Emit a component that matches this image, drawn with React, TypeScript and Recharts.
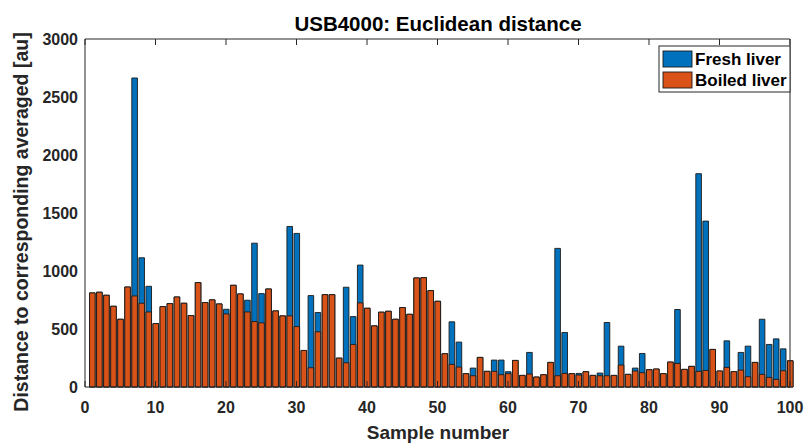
import React from "react";
import { BarChart, Bar, XAxis, YAxis } from "recharts";

const samples: number[] = Array.from({ length: 100 }, (_, i) => i + 1);

const freshLiver: number[] = [
  811, 817, 791, 696, 584, 862, 2664, 1114, 868, 547,
  693, 719, 776, 722, 616, 900, 728, 751, 716, 670,
  877, 802, 748, 1240, 805, 845, 656, 613, 1384, 1324,
  315, 788, 642, 796, 796, 249, 860, 607, 1051, 679,
  527, 645, 653, 584, 685, 627, 940, 943, 831, 739,
  287, 562, 387, 115, 163, 255, 135, 232, 232, 132,
  229, 100, 298, 86, 106, 212, 1195, 470, 115, 117,
  132, 100, 120, 556, 100, 352, 109, 163, 289, 149,
  155, 115, 215, 668, 152, 178, 1839, 1430, 324, 138,
  398, 132, 298, 352, 212, 584, 367, 415, 329, 226,
];

const boiledLiver: number[] = [
  811, 817, 791, 696, 584, 862, 785, 722, 647, 547,
  693, 719, 776, 722, 616, 900, 728, 751, 716, 630,
  877, 802, 647, 564, 553, 845, 656, 613, 613, 521,
  315, 166, 476, 796, 796, 249, 209, 367, 725, 679,
  527, 645, 653, 584, 685, 627, 940, 943, 831, 739,
  287, 195, 172, 115, 97, 255, 135, 135, 106, 115,
  229, 100, 112, 86, 106, 212, 97, 117, 115, 103,
  132, 100, 97, 97, 100, 189, 109, 138, 123, 149,
  155, 115, 215, 203, 152, 178, 135, 143, 324, 138,
  169, 132, 146, 89, 212, 109, 83, 66, 140, 226,
];

const xTicks: number[] = [0, 10, 20, 30, 40, 50, 60, 70, 80, 90, 100];
const yTicks: number[] = [0, 500, 1000, 1500, 2000, 2500, 3000];

const seriesNames = ["Fresh liver", "Boiled liver"];
const titleText = "USB4000: Euclidean distance";
const xLabelText = "Sample number";
const yLabelText = "Distance to corresponding averaged [au]";

const data = samples.map((s, i) => ({
  sample: s,
  fresh: freshLiver[i],
  boiled: boiledLiver[i],
}));

const FONT = "'Liberation Sans', Arial, Helvetica, sans-serif";
const AX = "#262626";
const BLUE = "#0072BD";
const ORANGE = "#D95319";

const W = 805;
const H = 446;
const M = { top: 39, right: 15, bottom: 19, left: 25 };

const NoLabel = () => <g />;

export default function App() {
  const tickStyle = { fontSize: 16, fontWeight: 700, fill: AX, fontFamily: FONT };
  return (
    <div style={{ position: "absolute", left: 0, top: 0, width: W, height: H, background: "#fff" }}>
      <BarChart width={W} height={H} data={data} margin={M}>
        <XAxis
          xAxisId="a"
          dataKey="sample"
          type="number"
          domain={[0, 100]}
          ticks={xTicks}
          orientation="bottom"
          height={40}
          tickLine={false}
          tickSize={6}
          tickMargin={9}
          axisLine={{ stroke: AX, strokeWidth: 1 }}
          tick={tickStyle}
          interval={0}
        />
        <XAxis
          xAxisId="b"
          dataKey="sample"
          type="number"
          domain={[0, 100]}
          ticks={xTicks}
          orientation="bottom"
          mirror
          height={30}
          tick={NoLabel}
          tickSize={6}
          axisLine={false}
          tickLine={{ stroke: AX, strokeWidth: 1 }}
          interval={0}
        />
        <XAxis
          xAxisId="c"
          dataKey="sample"
          type="number"
          domain={[0, 100]}
          ticks={xTicks}
          orientation="top"
          mirror
          height={30}
          tick={NoLabel}
          tickSize={6}
          axisLine={{ stroke: AX, strokeWidth: 1 }}
          tickLine={{ stroke: AX, strokeWidth: 1 }}
          interval={0}
        />
        <YAxis
          yAxisId="l"
          type="number"
          domain={[0, 3000]}
          ticks={yTicks}
          width={60}
          tickLine={false}
          tickSize={6}
          tickMargin={1}
          axisLine={{ stroke: AX, strokeWidth: 1 }}
          tick={tickStyle}
          interval={0}
        />
        <YAxis
          yAxisId="m"
          type="number"
          domain={[0, 3000]}
          ticks={yTicks}
          orientation="left"
          mirror
          width={60}
          tick={NoLabel}
          tickSize={6}
          axisLine={false}
          tickLine={{ stroke: AX, strokeWidth: 1 }}
          interval={0}
        />
        <YAxis
          yAxisId="r"
          type="number"
          domain={[0, 3000]}
          ticks={yTicks}
          orientation="right"
          mirror
          width={60}
          tick={NoLabel}
          tickSize={6}
          axisLine={{ stroke: AX, strokeWidth: 1 }}
          tickLine={{ stroke: AX, strokeWidth: 1 }}
          interval={0}
        />
        <Bar
          dataKey="fresh"
          name={seriesNames[0]}
          xAxisId="a"
          yAxisId="l"
          barSize={5.6}
          fill={BLUE}
          stroke="#1a1a1a"
          strokeWidth={0.9}
          isAnimationActive={false}
        />
        <Bar
          dataKey="boiled"
          name={seriesNames[1]}
          xAxisId="b"
          yAxisId="l"
          barSize={5.6}
          fill={ORANGE}
          stroke="#1a1a1a"
          strokeWidth={0.9}
          isAnimationActive={false}
        />
      </BarChart>
      <svg
        width={W}
        height={H}
        style={{ position: "absolute", left: 0, top: 0, pointerEvents: "none" }}
        fontFamily={FONT}
      >
        <text x={438} y={31} textAnchor="middle" fontSize={20.5} fontWeight={700} fill="#000">
          {titleText}
        </text>
        <text x={438} y={439} textAnchor="middle" fontSize={19} fontWeight={700} fill={AX}>
          {xLabelText}
        </text>
        <text
          x={0}
          y={0}
          transform="translate(28 222) rotate(-90)"
          textAnchor="middle"
          fontSize={19.5}
          fontWeight={700}
          fill={AX}
        >
          {yLabelText}
        </text>
        <g>
          <rect x={659} y={46} width={131} height={46} fill="#fff" stroke={AX} strokeWidth={1} />
          <rect x={663} y={51} width={29} height={16} fill={BLUE} stroke="#1a1a1a" strokeWidth={0.9} />
          <rect x={663} y={72} width={29} height={16} fill={ORANGE} stroke="#1a1a1a" strokeWidth={0.9} />
          <text x={695} y={65} fontSize={17} fontWeight={700} fill="#000">
            {seriesNames[0]}
          </text>
          <text x={695} y={86} fontSize={17} fontWeight={700} fill="#000">
            {seriesNames[1]}
          </text>
        </g>
      </svg>
    </div>
  );
}
